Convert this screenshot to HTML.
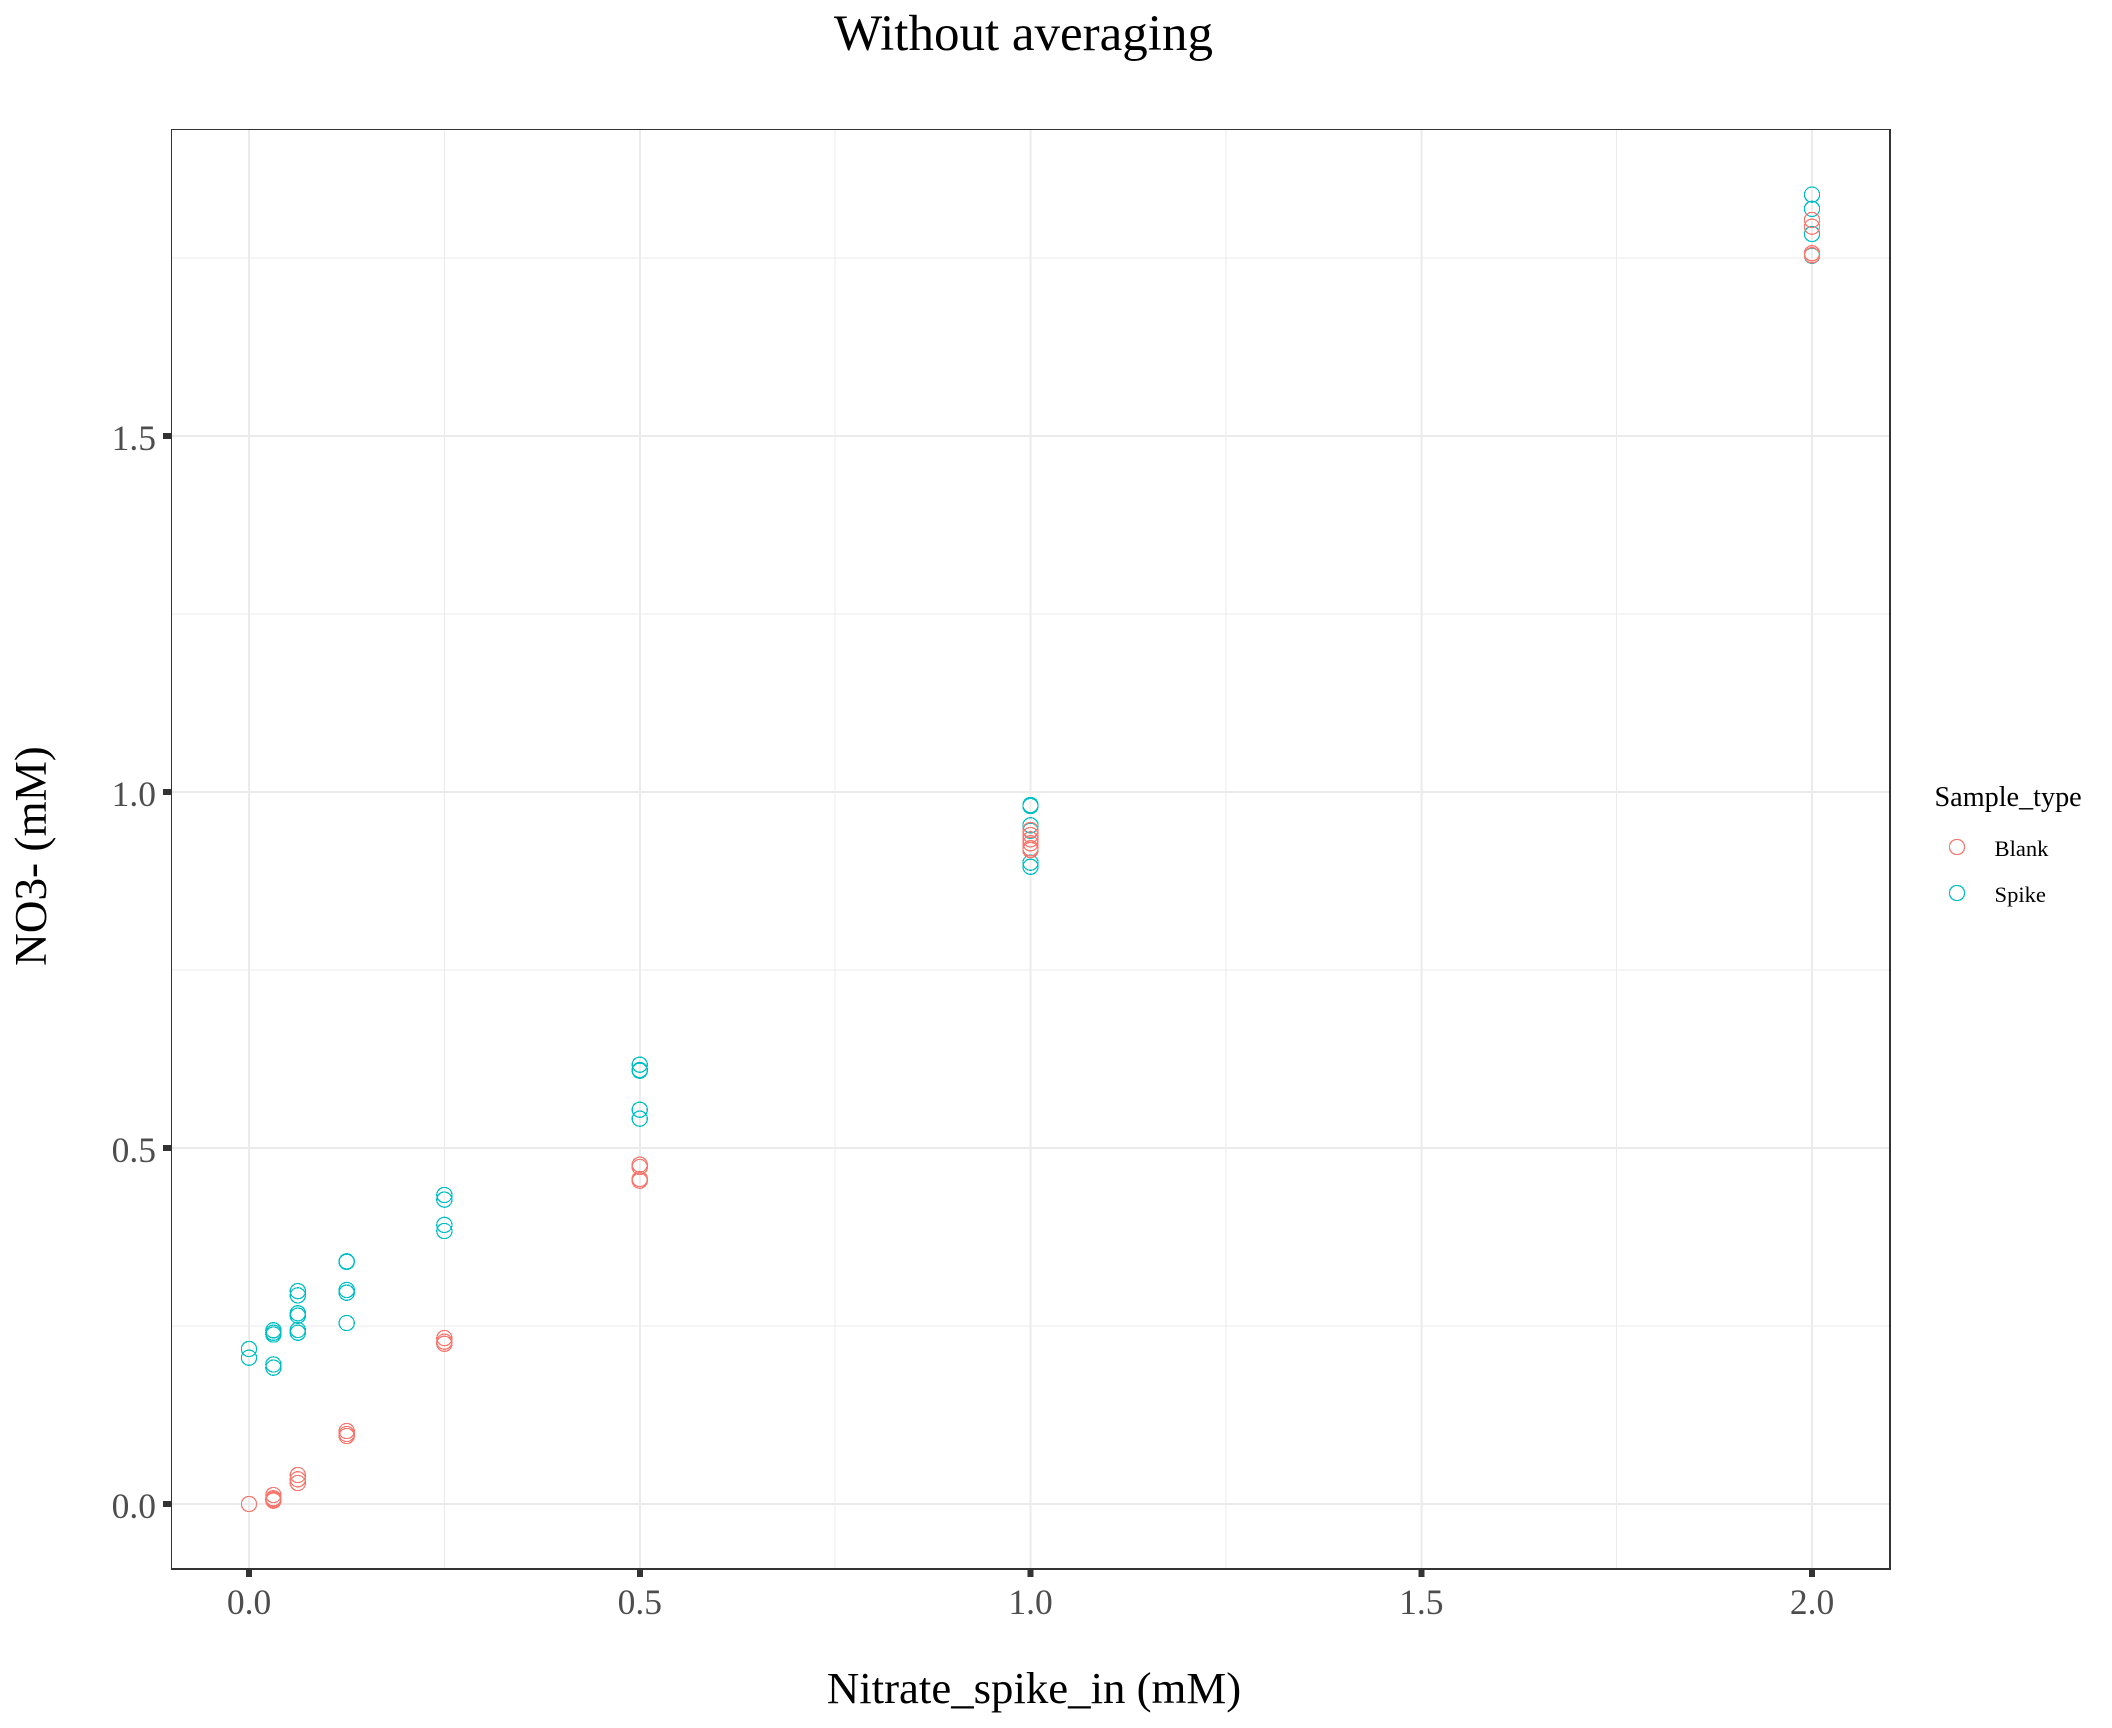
<!DOCTYPE html>
<html lang="en">
<head>
<meta charset="utf-8">
<title>Without averaging</title>
<style>
html,body{margin:0;padding:0;background:#fff;}
svg{display:block;font-family:"Liberation Serif",serif;}
</style>
</head>
<body>
<svg id="chart" xmlns="http://www.w3.org/2000/svg" width="2112" height="1728" viewBox="0 0 2112 1728">
  <rect x="0" y="0" width="2112" height="1728" fill="#ffffff"/>
  <g id="grid"></g>
  <g id="points"></g>
  <g fill="#333333">
    <rect x="171" y="129" width="1720" height="1"/>
    <rect x="171" y="129" width="1" height="1441"/>
    <rect x="1889" y="129" width="2" height="1441"/>
    <rect x="171" y="1568" width="1720" height="2"/>
  </g>
  <g id="axes"></g>
  <text x="1023.5" y="50" font-size="51" text-anchor="middle" fill="#000">Without averaging</text>
  <text x="1034" y="1703" font-size="44.8" text-anchor="middle" fill="#000">Nitrate_spike_in (mM)</text>
  <text transform="translate(46,856) rotate(-90)" font-size="45.2" text-anchor="middle" fill="#000">NO3- (mM)</text>
  <g>
    <text x="1934.5" y="806" font-size="28.2" fill="#000">Sample_type</text>
    <circle cx="1957" cy="847" r="7.6" fill="none" stroke="#F8766D" stroke-width="1.25" shape-rendering="crispEdges"/>
    <text x="1994.5" y="856" font-size="22.6" fill="#000">Blank</text>
    <circle cx="1957" cy="893" r="7.6" fill="none" stroke="#00BFC4" stroke-width="1.25" shape-rendering="crispEdges"/>
    <text x="1994.5" y="902" font-size="22.6" fill="#000">Spike</text>
  </g>
</svg>
<script>
const xTickValues = [0, 0.5, 1, 1.5, 2];
const xTickLabels = ["0.0", "0.5", "1.0", "1.5", "2.0"];
const yTickValues = [0, 0.5, 1, 1.5];
const yTickLabels = ["0.0", "0.5", "1.0", "1.5"];
const xMinorValues = [0.25, 0.75, 1.25, 1.75];
const yMinorValues = [0.25, 0.75, 1.25, 1.75];

const blankSpikeIn = [0, 0.03125, 0.03125, 0.03125, 0.03125, 0.0625, 0.0625, 0.0625, 0.125, 0.125, 0.125, 0.25, 0.25, 0.25, 0.5, 0.5, 0.5, 0.5, 1, 1, 1, 1, 1, 1, 2, 2, 2, 2];
const blankNitrate = [0, 0.0126, 0.008, 0.006, 0.0047, 0.0407, 0.0347, 0.0295, 0.1025, 0.0983, 0.0955, 0.233, 0.228, 0.225, 0.4766, 0.4733, 0.4565, 0.4541, 0.9466, 0.9396, 0.9335, 0.928, 0.921, 0.9185, 1.8034, 1.794, 1.7566, 1.7538];

const spikeSpikeIn = [0, 0, 0.03125, 0.03125, 0.03125, 0.03125, 0.03125, 0.0625, 0.0625, 0.0625, 0.0625, 0.0625, 0.0625, 0.125, 0.125, 0.125, 0.125, 0.125, 0.25, 0.25, 0.25, 0.25, 0.5, 0.5, 0.5, 0.5, 0.5, 1, 1, 1, 1, 1, 1, 2, 2, 2, 2];
const spikeNitrate = [0.2177, 0.2055, 0.244, 0.2406, 0.238, 0.196, 0.1915, 0.299, 0.293, 0.2678, 0.2645, 0.2444, 0.2406, 0.3408, 0.3401, 0.3006, 0.2968, 0.2542, 0.434, 0.4275, 0.392, 0.3834, 0.617, 0.6096, 0.6085, 0.5538, 0.5412, 0.9817, 0.9803, 0.9532, 0.9455, 0.9007, 0.895, 1.839, 1.819, 1.7837, 1.7532];

const SVG_NS = "http://www.w3.org/2000/svg";
const scaleX = v => 249 + v * 781.5;
const scaleY = v => 1504 - v * 712;

function make(tag, parent, attrs) {
  const el = document.createElementNS(SVG_NS, tag);
  for (const k in attrs) el.setAttribute(k, attrs[k]);
  parent.appendChild(el);
  return el;
}

const grid = document.getElementById("grid");
const axes = document.getElementById("axes");
const points = document.getElementById("points");

xMinorValues.forEach(v => {
  const el = make("line", grid, {x1: scaleX(v), x2: scaleX(v), y1: 130, y2: 1568, stroke: "#EBEBEB", "stroke-width": 1, "shape-rendering": "crispEdges"});
  
  
});
yMinorValues.forEach(v => {
  const el = make("line", grid, {x1: 172, x2: 1889, y1: scaleY(v), y2: scaleY(v), stroke: "#EBEBEB", "stroke-width": 1, "shape-rendering": "crispEdges"});
  
  
});
xTickValues.forEach((v, i) => {
  const line = make("line", grid, {x1: scaleX(v), x2: scaleX(v), y1: 130, y2: 1568, stroke: "#EBEBEB", "stroke-width": 2, "shape-rendering": "crispEdges"});
  
  
  const tick = make("line", axes, {x1: scaleX(v), x2: scaleX(v), y1: 1570, y2: 1577, stroke: "#333333", "stroke-width": 6, "shape-rendering": "crispEdges"});
  
  
  const label = make("text", axes, {x: scaleX(v), y: 1614, "font-size": 35.5, "text-anchor": "middle", fill: "#4D4D4D"});
  
  
  label.textContent = xTickLabels[i];
});
yTickValues.forEach((v, i) => {
  const line = make("line", grid, {x1: 172, x2: 1889, y1: scaleY(v), y2: scaleY(v), stroke: "#EBEBEB", "stroke-width": 2, "shape-rendering": "crispEdges"});
  
  
  const tick = make("line", axes, {x1: 163, x2: 171, y1: scaleY(v), y2: scaleY(v), stroke: "#333333", "stroke-width": 6, "shape-rendering": "crispEdges"});
  
  
  const label = make("text", axes, {x: 156, y: scaleY(v) + 14, "font-size": 35.5, "text-anchor": "end", fill: "#4D4D4D"});
  
  
  label.textContent = yTickLabels[i];
});

spikeSpikeIn.forEach((x, i) => {
  const pt = make("circle", points, {cx: scaleX(x), cy: scaleY(spikeNitrate[i]), r: 7.6, fill: "none", stroke: "#00BFC4", "stroke-width": 1.25, "shape-rendering": "crispEdges"});
  
  
});
blankSpikeIn.forEach((x, i) => {
  const pt = make("circle", points, {cx: scaleX(x), cy: scaleY(blankNitrate[i]), r: 7.6, fill: "none", stroke: "#F8766D", "stroke-width": 1.25, "shape-rendering": "crispEdges"});
  
  
});
</script>
</body>
</html>
